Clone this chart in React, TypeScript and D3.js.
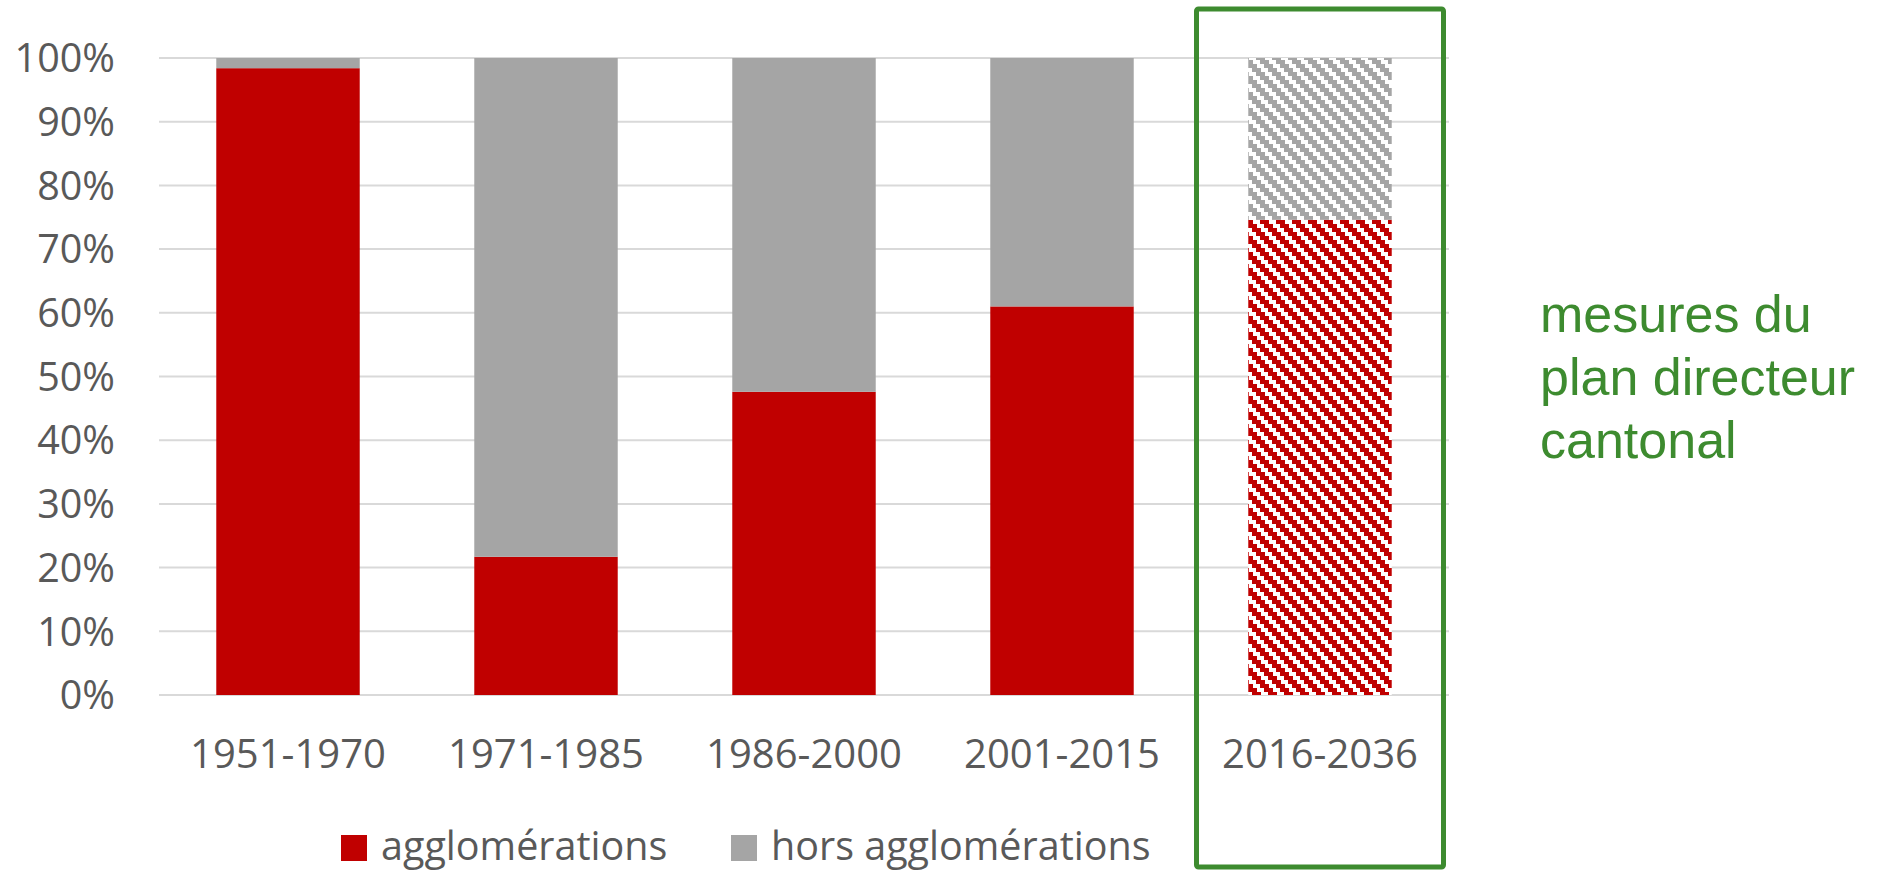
import React, { useRef, useEffect } from "react";
import * as d3 from "d3";

const periods = ["1951-1970", "1971-1985", "1986-2000", "2001-2015", "2016-2036"];
const agglo = [0.984, 0.217, 0.476, 0.61, 0.746];
const horsAgglo = [0.016, 0.783, 0.524, 0.39, 0.254];
const yTicks = [0, 0.1, 0.2, 0.3, 0.4, 0.5, 0.6, 0.7, 0.8, 0.9, 1];
const seriesNames = ["agglomérations", "hors agglomérations"];
const noteLines = ["mesures du", "plan directeur", "cantonal"];

const RED = "#c00000";
const GREY = "#a5a5a5";
const GREEN = "#3d8b2f";
const TEXT = "#595959";
const FONT = "'Open Sans', sans-serif";

const W = 1878;
const H = 871;

// blocky downward diagonal, like Excel's pattern fill
const hatchPath = () => {
  let d = "";
  for (let r = 0; r < 4; r++) {
    const y0 = r * 4;
    const x0 = r * 4;
    const x1 = x0 + 9;
    if (x1 <= 16) {
      d += `M${x0},${y0}h9v4h-9Z`;
    } else {
      d += `M${x0},${y0}h${16 - x0}v4h${x0 - 16}Z`;
      d += `M0,${y0}h${x1 - 16}v4h${16 - x1}Z`;
    }
  }
  return d;
};

const App: React.FC = () => {
  const svgRef = useRef<SVGSVGElement | null>(null);

  useEffect(() => {
    if (!svgRef.current) return;
    const svg = d3.select(svgRef.current);
    svg.selectAll("*").remove();

    const x = d3
      .scaleBand<string>()
      .domain(periods)
      .range([159, 1449])
      .paddingInner(0.444)
      .paddingOuter(0.222);
    const y = d3.scaleLinear().domain([0, 1]).range([695, 58]);

    const defs = svg.append("defs");
    [
      { id: "hatch-red", color: RED },
      { id: "hatch-grey", color: GREY },
    ].forEach((p) => {
      const pat = defs
        .append("pattern")
        .attr("id", p.id)
        .attr("patternUnits", "userSpaceOnUse")
        .attr("width", 16)
        .attr("height", 16);
      pat.append("rect").attr("width", 16).attr("height", 16).attr("fill", "#fff");
      pat
        .append("path")
        .attr("d", hatchPath())
        .attr("fill", p.color)
        .attr("shape-rendering", "crispEdges");
    });

    // gridlines
    svg
      .append("g")
      .selectAll("line")
      .data(yTicks)
      .enter()
      .append("line")
      .attr("x1", 159)
      .attr("x2", 1449)
      .attr("y1", (d) => y(d))
      .attr("y2", (d) => y(d))
      .attr("stroke", "#d9d9d9")
      .attr("stroke-width", 2);

    // y labels
    svg
      .append("g")
      .selectAll("text")
      .data(yTicks)
      .enter()
      .append("text")
      .attr("x", 115)
      .attr("y", (d) => y(d))
      .attr("dy", "0.36em")
      .attr("text-anchor", "end")
      .style("font-family", FONT)
      .style("font-size", "39.5px")
      .style("fill", TEXT)
      .text((d) => d3.format(".0%")(d));

    const last = periods.length - 1;

    // stacked bars
    const bars = svg.append("g");
    periods.forEach((p, i) => {
      const x0 = x(p)!;
      const bw = x.bandwidth();
      bars
        .append("rect")
        .attr("x", x0)
        .attr("width", bw)
        .attr("y", y(agglo[i]))
        .attr("height", y(0) - y(agglo[i]))
        .attr("fill", i === last ? "url(#hatch-red)" : RED);
      bars
        .append("rect")
        .attr("x", x0)
        .attr("width", bw)
        .attr("y", y(agglo[i] + horsAgglo[i]))
        .attr("height", y(agglo[i]) - y(agglo[i] + horsAgglo[i]))
        .attr("fill", i === last ? "url(#hatch-grey)" : GREY);
    });

    // x labels
    svg
      .append("g")
      .selectAll("text")
      .data(periods)
      .enter()
      .append("text")
      .attr("x", (d) => x(d)! + x.bandwidth() / 2)
      .attr("y", 768)
      .attr("text-anchor", "middle")
      .style("font-family", FONT)
      .style("font-size", "40px")
      .style("fill", TEXT)
      .text((d) => d);

    // green frame around the projection
    const xl = x(periods[last])!;
    const xc = xl + x.bandwidth() / 2;
    svg
      .append("rect")
      .attr("x", xc - 123.5)
      .attr("y", 9)
      .attr("width", 247)
      .attr("height", 858)
      .attr("rx", 2)
      .attr("fill", "none")
      .attr("stroke", GREEN)
      .attr("stroke-width", 5);

    // note
    svg
      .append("text")
      .attr("x", 1540)
      .attr("y", 332)
      .style("font-family", "'Liberation Sans', Arial, sans-serif")
      .style("font-size", "52px")
      .style("fill", GREEN)
      .selectAll("tspan")
      .data(noteLines)
      .enter()
      .append("tspan")
      .attr("x", 1540)
      .attr("dy", (_d, i) => (i === 0 ? 0 : 63))
      .text((d) => d);

    // legend
    const legendX = [341, 731];
    const legendColors = [RED, GREY];
    const lg = svg.append("g");
    seriesNames.forEach((name, i) => {
      lg.append("rect")
        .attr("x", legendX[i])
        .attr("y", 835)
        .attr("width", 26)
        .attr("height", 26)
        .attr("fill", legendColors[i]);
      lg.append("text")
        .attr("x", legendX[i] + 40)
        .attr("y", 860)
        .style("font-family", FONT)
        .style("font-size", "39.5px")
        .style("fill", TEXT)
        .text(name);
    });
  }, []);

  return (
    <div style={{ position: "absolute", left: 0, top: 0, background: "#fff" }}>
      <svg ref={svgRef} width={W} height={H} style={{ display: "block" }}></svg>
    </div>
  );
};

export default App;
